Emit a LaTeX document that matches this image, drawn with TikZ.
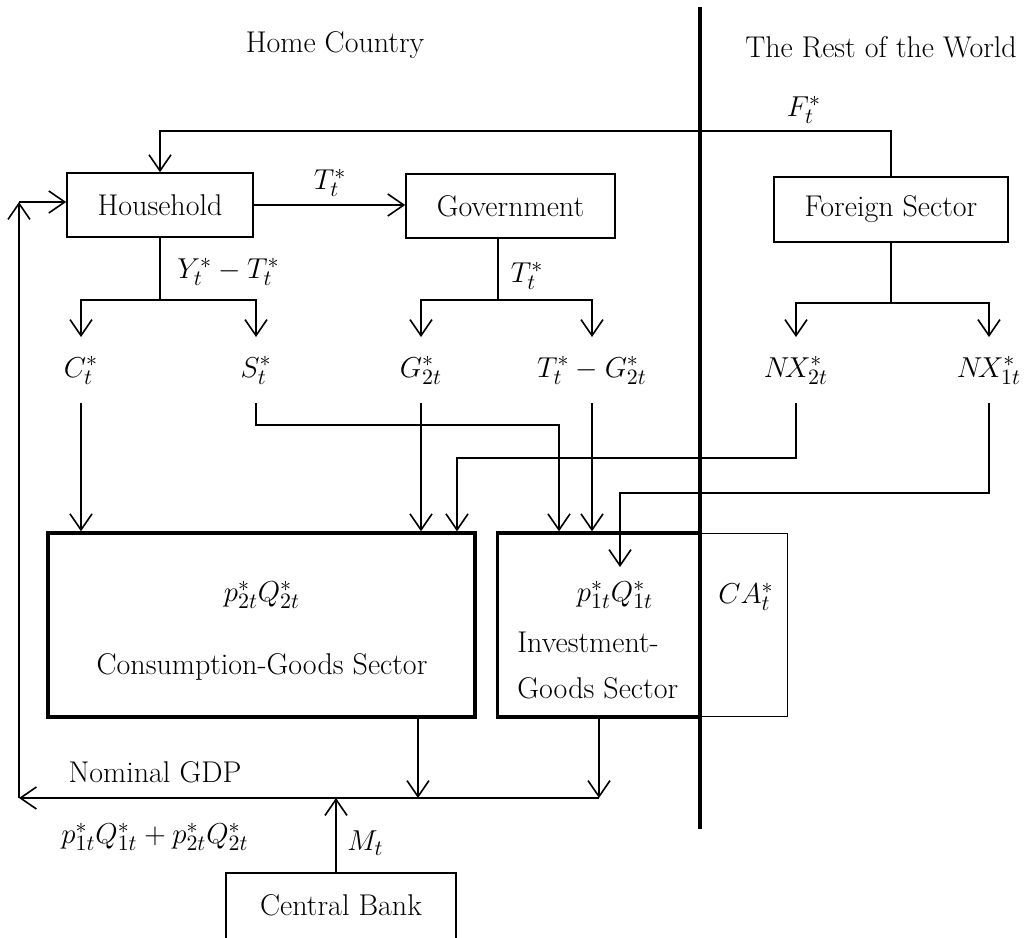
\documentclass[tikz,border=0pt]{standalone}
\usetikzlibrary{arrows.meta}
\begin{document}
\begin{tikzpicture}[x=0.5pt,y=-0.5pt,
  font=\fontsize{15}{18}\selectfont,
  thin line/.style={line width=0.8pt},
  arr/.style={thin line,-{Straight Barb[length=8pt,width=11pt,line width=0.8pt]}},
  thinbox/.style={draw,thin line,inner sep=0pt},
  thickbox/.style={draw,line width=1.7pt,inner sep=0pt},
  lab/.style={inner sep=0pt,text height=11pt,text depth=4pt,outer ysep=9pt},
  txt/.style={inner sep=0pt}]
\useasboundingbox (0,0) rectangle (1027,937);

% headers
\node[txt] (home) at (335,45) {Home Country};
\node[txt] (row) at (881,47) {The Rest of the World};

% boxes
\node[thinbox,minimum width=93pt,minimum height=32pt] (hh) at (160,205) {Household};
\node[thinbox,minimum width=104.5pt,minimum height=32pt] (gov) at (510.5,206) {Government};
\node[thinbox,minimum width=117pt,minimum height=32.5pt] (fs) at (891,209.5) {Foreign Sector};
\node[thinbox,minimum width=43.5pt,minimum height=91.5pt] (ca) at (744,625) {};
\node[thickbox,minimum width=213.5pt,minimum height=92pt] (cons) at (261.5,625) {};
\node[thickbox,minimum width=101.5pt,minimum height=92pt] (inv) at (599,625) {};
\node[thinbox,minimum width=115pt,minimum height=36pt] (cb) at (341,909) {};
\node[txt] (cbt) at (341,905) {Central Bank};

% texts inside boxes
\node[txt] (pq2) at (262,595) {$p^{*}_{2t}Q^{*}_{2t}$};
\node[txt] (cgs) at (262,667) {Consumption-Goods Sector};
\node[txt] (pq1) at (615,595) {$p^{*}_{1t}Q^{*}_{1t}$};
\node[txt,anchor=west] (igs1) at (517,642) {Investment-};
\node[txt,anchor=west] (igs2) at (517,688) {Goods Sector};
\node[txt] (cat) at (746,597) {$CA^{*}_{t}$};

% flow labels
\node[lab] (ct) at (81,370) {$C^{*}_{t}$};
\node[lab] (st) at (256,370) {$S^{*}_{t}$};
\node[lab] (gt) at (421,370) {$G^{*}_{2t}$};
\node[lab] (tg) at (592,370) {$T^{*}_{t}-G^{*}_{2t}$};
\node[lab] (nx2) at (796,370) {$N\!X^{*}_{2t}$};
\node[lab] (nx1) at (989,370) {$N\!X^{*}_{1t}$};

\node[txt] (ft) at (804,110) {$F^{*}_{t}$};
\node[txt] (tt) at (330,183) {$T^{*}_{t}$};
\node[txt,anchor=west] (yt) at (177,272) {$Y^{*}_{t}-T^{*}_{t}$};
\node[txt] (tt2) at (527,276) {$T^{*}_{t}$};
\node[txt] (ngdp) at (155,772) {Nominal GDP};
\node[txt] (sum) at (155,837) {$p^{*}_{1t}Q^{*}_{1t}+p^{*}_{2t}Q^{*}_{2t}$};
\node[txt,anchor=west] (mt) at (347,843) {$M_{t}$};

% coordinates
\coordinate (ftop) at (0,131);
\coordinate (ysplit) at (0,300);
\coordinate (fsplit) at (0,303);
\coordinate (gx) at (498,0);
\coordinate (sx) at (559,425);
\coordinate (n2) at (457,458);
\coordinate (n1) at (620,493);
\coordinate (n1end) at (620,567);
\coordinate (consout) at (418,717);
\coordinate (gdpy) at (0,798);
\coordinate (lft) at (19,798);
\coordinate (lcorner) at (19,202);
\coordinate (dtop) at (700,7);
\coordinate (dbot) at (700,829);

% connectors
\draw[arr] (fs.north) |- (ftop -| hh.north) -- (hh.north);
\draw[arr] (hh.east) -- (hh.east -| gov.west);

\draw[thin line] (hh.south) -- (hh.south |- ysplit);
\draw[arr] (hh.south |- ysplit) -| (ct.north);
\draw[arr] (hh.south |- ysplit) -| (st.north);

\draw[thin line] (gov.south -| gx) -- (gx |- ysplit);
\draw[arr] (gx |- ysplit) -| (gt.north);
\draw[arr] (gx |- ysplit) -| (tg.north);

\draw[thin line] (fs.south) -- (fs.south |- fsplit);
\draw[arr] (fs.south |- fsplit) -| (nx2.north);
\draw[arr] (fs.south |- fsplit) -| (nx1.north);

\draw[arr] (ct.south) -- (ct.south |- cons.north);
\draw[arr] (gt.south) -- (gt.south |- cons.north);
\draw[arr] (st.south) |- (sx) -- (sx |- inv.north);
\draw[arr] (tg.south) -- (tg.south |- inv.north);
\draw[arr] (nx2.south) |- (n2) -- (n2 |- cons.north);
\draw[arr] (nx1.south) |- (n1) -- (n1end);

\draw[arr] (consout) -- (consout |- gdpy);
\draw[arr] (inv.south) -- (inv.south |- gdpy);
\draw[arr] (inv.south |- gdpy) -- (lft);
\draw[arr] (lft) -- (lcorner);
\draw[arr] (lcorner) -- (lcorner -| hh.west);
\draw[arr] ([xshift=-2.5pt]cb.north) -- ([xshift=-2.5pt]cb.north |- gdpy);

% border line
\draw[line width=1.8pt] (dtop) -- (dbot);
\end{tikzpicture}
\end{document}
